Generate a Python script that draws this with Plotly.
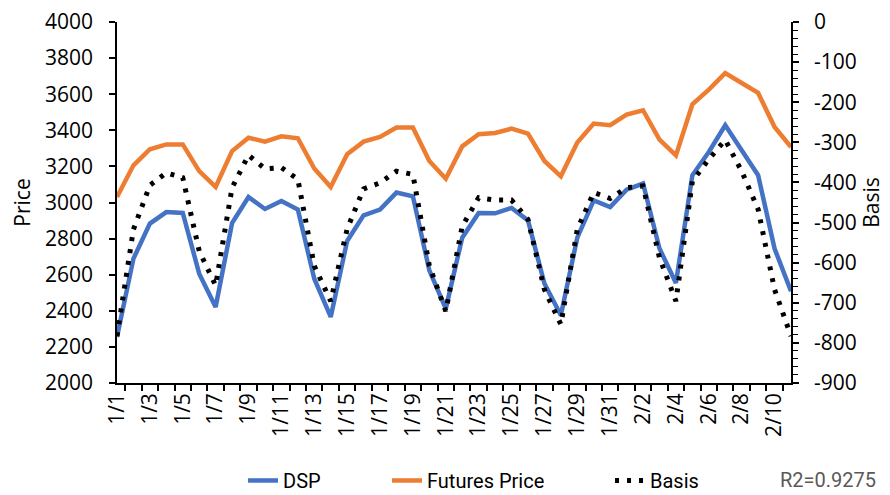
import plotly.graph_objects as go

dates = [f"1/{d}" for d in range(1, 32)] + [f"2/{d}" for d in range(1, 12)]

dsp = [2255, 2689, 2883, 2947, 2942, 2606, 2421, 2886, 3030, 2964,
       3008, 2961, 2578, 2366, 2787, 2929, 2961, 3055, 3034, 2624,
       2412, 2805, 2942, 2940, 2970, 2901, 2551, 2375, 2805, 3012,
       2975, 3071, 3105, 2745, 2554, 3151, 3280, 3428, 3289, 3151,
       2745, 2508]

futures = [3030, 3206, 3295, 3322, 3322, 3174, 3086, 3285, 3359, 3337,
           3367, 3356, 3188, 3086, 3267, 3337, 3363, 3415, 3415, 3230,
           3132, 3311, 3378, 3385, 3409, 3382, 3230, 3145, 3332, 3437,
           3428, 3487, 3511, 3348, 3261, 3544, 3625, 3717, 3662, 3607,
           3418, 3307]

basis = [-783, -517, -407, -376, -388, -571, -657, -413, -332, -366,
         -363, -392, -608, -696, -516, -416, -401, -372, -380, -608,
         -721, -509, -438, -444, -444, -492, -667, -754, -517, -425,
         -440, -413, -409, -588, -696, -397, -342, -294, -372, -467,
         -667, -783]

price_ticks = [2000, 2200, 2400, 2600, 2800, 3000, 3200, 3400, 3600, 3800, 4000]
basis_ticks = [0, -100, -200, -300, -400, -500, -600, -700, -800, -900]
basis_tick_text = [str(v) for v in basis_ticks]

tick_text = [d if i % 2 == 0 else "" for i, d in enumerate(dates)]

FONT = "Open Sans"
LEG_FONT = dict(family="Roboto", size=20, color="black")

fig = go.Figure()
fig.add_trace(go.Scatter(x=dates, y=dsp, name="DSP", mode="lines", legend="legend",
                         line=dict(color="#4472C4", width=4.5)))
fig.add_trace(go.Scatter(x=dates, y=futures, name="Futures Price", mode="lines", legend="legend2",
                         line=dict(color="#ED7D31", width=4.5)))
fig.add_trace(go.Scatter(x=dates, y=basis, name="Basis", mode="lines", yaxis="y2", legend="legend3",
                         line=dict(color="black", width=5, dash="4px,8px")))

leg_common = dict(orientation="h", xanchor="left", y=-0.27, yanchor="middle",
                  font=LEG_FONT, bgcolor="rgba(0,0,0,0)")

fig.update_layout(
    width=882, height=487,
    margin=dict(l=109, r=99, t=14, b=112, autoexpand=False),
    paper_bgcolor="white", plot_bgcolor="white",
    font=dict(family=FONT, size=19, color="black"),
    showlegend=True,
    legend=dict(x=0.187, **leg_common),
    legend2=dict(x=0.4006, **leg_common),
    legend3=dict(x=0.7315, **leg_common),
    xaxis=dict(type="category", tickmode="array", tickvals=dates, ticktext=tick_text,
               tickangle=-90, tickson="boundaries", ticks="outside", ticklen=6,
               tickcolor="black", tickwidth=1.5, automargin=False,
               showline=True, linecolor="black", linewidth=1.5,
               showgrid=False, zeroline=False,
               tickfont=dict(size=21)),
    yaxis=dict(title=dict(text="Price", font=dict(size=21), standoff=12),
               range=[2000, 4000], tickmode="array", tickvals=price_ticks,
               automargin=False, ticklabeloverflow="allow",
               ticks="outside", ticklen=6, tickcolor="black", tickwidth=1.5,
               ticklabelstandoff=12,
               showline=True, linecolor="black", linewidth=1.5,
               showgrid=False, zeroline=False, tickfont=dict(size=21)),
    yaxis2=dict(title=dict(text="Basis", font=dict(size=21), standoff=6),
                range=[-900, 0], tickmode="array", tickvals=basis_ticks,
                ticktext=basis_tick_text,
                automargin=False, ticklabeloverflow="allow",
                overlaying="y", side="right",
                ticks="outside", ticklen=6, tickcolor="black", tickwidth=1.5,
                ticklabelstandoff=11,
                minor=dict(ticks="outside", dtick=20, ticklen=5, tickcolor="black", tickwidth=1),
                showline=True, linecolor="black", linewidth=1.5,
                showgrid=False, zeroline=False, tickfont=dict(size=21)),
    annotations=[dict(text="R2=0.9275", xref="paper", yref="paper", x=1.055, y=-0.27,
                      xanchor="center", yanchor="middle", showarrow=False,
                      font=dict(family="Roboto", size=20, color="#595959"))],
)

fig.write_html("out.html")
